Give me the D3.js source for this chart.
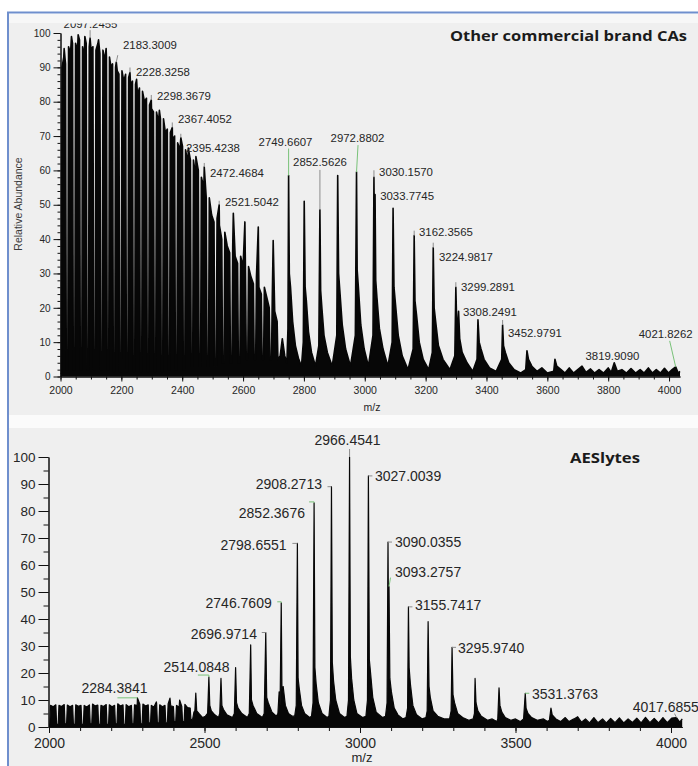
<!DOCTYPE html>
<html><head><meta charset="utf-8">
<script src="https://cdn.jsdelivr.net/npm/d3@7"></script>
<style>
html,body{margin:0;padding:0;background:#fff;}
svg{display:block;}
text{font-family:"Liberation Sans",Arial,sans-serif;}
.title{font-family:"Open Sans","Noto Sans",sans-serif;font-weight:700;fill:#1b1b1b;}
</style></head><body>
<svg id="chart" width="698" height="766"></svg>
<script>
// ---------- Upper spectrum: other commercial brand CAs ----------
// unresolved region: white gaps between clusters (m/z) and the depth they reach
const topGapMz = [2000, 2021.5, 2044.5, 2067.5, 2089.5, 2111.5, 2134.5, 2156, 2176, 2197, 2219, 2241.5, 2264.5, 2287.5, 2310.5, 2333.5, 2356, 2380, 2406, 2432, 2458, 2484, 2509.5, 2535, 2561, 2587, 2613, 2639, 2665, 2691, 2717];
const topGapLow = [1, 2, 2, 2, 2, 2, 2, 2, 1.5, 1.5, 1.5, 1.5, 1.5, 1.5, 1.5, 1.5, 2, 2, 2, 3, 3, 3, 3, 4, 4, 4, 5, 5, 5, 5, 5];
// cluster top (left, middle, right) between consecutive gaps
const topClusterTops = [[90,93,91],[96,94,97],[97,95,98],[96,93,97],[96,95,96],[95,97,94],[95,92,93],[93,90,91],[90,89,88],[89,86,88],[87,85,86],[85,82,84],[83,80,81],[79,78,77],[77,74,75],[75,71,72],[71,69,70],[68,66,67],[66,62,63],[63,58,60],[58,55,52],[52,47,45],[46,44,40],[42,38,36],[38,35,33],[35,32,30],[32,29,27],[29,26,24],[26,23,20],[23,19,16]];
// individual spikes standing out of the clusters
const topSpikes = [[2012,95.5],[2036,99],[2058,99.5],[2080,99],[2097.2455,98.5],[2125,98],[2150,95.5],[2183.3009,91.5],[2228.3258,88.5],[2250,86.5],[2298.3679,80.5],[2325,77.5],[2367.4052,72.5],[2395.4238,69.5],[2420,66.5],[2445,64],[2472.4684,61],[2521.5042,50],[2568,47.5],[2606,45],[2650,43.5],[2699,39.6]];
// resolved series and baseline noise (m/z, relative abundance)
const topResolved = [
 [2722,6],[2729,11],[2737,6],[2744,4],
 [2747.5,14],[2749.6607,58.5],[2752,30],[2756,26],[2763,16],[2772,9],[2783,5],[2792,3],
 [2798,10],[2801,51],[2804,26],[2808,22],[2815,13],[2825,7],[2838,3],
 [2849,9],[2852.5626,48.5],[2855,25],[2859,20],[2866,12],[2877,7],[2893,3],
 [2908,12],[2911,58.5],[2914,30],[2918,25],[2926,15],[2937,8],[2953,3],
 [2969,12],[2972.8802,59.5],[2975,31],[2979,26],[2987,15],[2998,8],[3012,3],
 [3027,12],[3030.157,58],[3032,38],[3033.7745,53],[3036,28],[3040,23],[3048,14],[3060,8],[3076,3],
 [3090,10],[3093,49],[3096,26],[3101,21],[3110,12],[3123,6],[3142,2],
 [3159,8],[3162.3565,41],[3165,22],[3170,18],[3179,10],[3192,5],[3210,2],
 [3222,7],[3224.9817,37.5],[3228,20],[3233,16],[3242,9],[3257,5],[3280,2],
 [3296,6],[3299.2891,26],[3302,16],[3305,14],[3308.2491,19],[3312,11],[3320,7],[3336,4],[3355,1.5],
 [3369,5],[3372,16.5],[3376,10],[3382,8],[3392,5],[3410,2.5],[3432,1.5],
 [3450,5],[3452.9791,15],[3456,9],[3462,7],[3473,4],[3491,2],[3512,1],
 [3529,2],[3533,7.5],[3538,5],[3549,3],[3566,1.5],[3582,2.5],[3600,1],
 [3621,1.5],[3625,5],[3631,3],[3645,2],[3658,1],[3672,2.5],[3686,1],[3700,2],[3714,3],[3727,1.2],[3742,2.2],[3755,1],
 [3770,2],[3785,1],[3800,2.5],[3810,1.2],[3819.909,4],[3830,1.5],[3845,2],[3860,1],[3875,2.3],[3890,1],[3905,2],
 [3918,1],[3932,2.5],[3945,1],[3958,2],[3972,1],[3985,2.4],[3998,1],[4010,2],[4021.8262,2.8],[4030,1],[4036,1.5]
];
const topLabels = ["2097.2455","2183.3009","2228.3258","2298.3679","2367.4052","2395.4238","2472.4684","2521.5042","2749.6607","2852.5626","2972.8802","3030.1570","3033.7745","3162.3565","3224.9817","3299.2891","3308.2491","3452.9791","3819.9090","4021.8262"];
const topXTicks = [2000, 2200, 2400, 2600, 2800, 3000, 3200, 3400, 3600, 3800, 4000];
const topYTicks = [0, 10, 20, 30, 40, 50, 60, 70, 80, 90, 100];

// ---------- Lower spectrum: AESlytes ----------
const botGapMz = [2000, 2027, 2054, 2081, 2108, 2135, 2162, 2189, 2216, 2243, 2270, 2297, 2324, 2351, 2378, 2405, 2432, 2459];
const botGapLow = [1, 1, 1.2, 1, 1, 1.2, 1, 1, 1.2, 1, 1.2, 1.2, 1.5, 1.5, 1.5, 2, 2, 2.5];
const botClusterTops = [[8,7.5,8.2],[8,7.6,8.3],[8.1,7.5,8],[8.2,7.7,8],[8,7.4,8.2],[8.5,7.8,8.1],[8,7.6,8.3],[8.2,7.5,8],[8.6,7.8,8.2],[8.3,7.5,8],[8.2,7.9,8.4],[8.5,7.8,8.2],[8,7.4,8.8],[8.2,7.5,8],[8.5,7.8,7.6],[8,7.4,7.6],[8.4,7.2,7]];
const botSpikes = [[2284.3841,10.8],[2345,9.3],[2389,10.7],[2420,10]];
const botResolved = [
 [2462,3],[2466,5.5],[2469,6],[2472,12.6],[2475,6],[2482,5],[2494,3.5],[2503,4],
 [2510,5],[2514.0848,18.5],[2517,8],[2522,6],[2533,4.5],[2545,3.5],
 [2549,5],[2553,18],[2556,8],[2561,6.5],[2572,4.5],[2590,3.5],
 [2596,5],[2600,22],[2603,9],[2608,7],[2620,5],[2638,3.5],
 [2644,5],[2648.5,30.4],[2651,10],[2656,8],[2668,5],[2686,3.5],
 [2692,5],[2696.9714,35],[2700,11],[2705,9],[2717,5.5],[2731,4],
 [2736,5],[2740,13],[2743,8],[2746.7609,46],[2749,14],[2753,15],[2760,8],[2770,5],[2782,4],
 [2790,4],[2795,8],[2798.6551,68],[2801,18],[2805,14],[2812,8],[2822,5],[2838,3.5],
 [2844,4],[2849,9],[2852.3676,83],[2855,22],[2859,16],[2866,9],[2878,5],[2894,3.5],
 [2900,4],[2905,10],[2908.2713,89],[2911,24],[2915,17],[2922,10],[2934,5],[2950,3.5],
 [2958,4],[2963,10],[2966.4541,100],[2969,26],[2973,18],[2980,10],[2990,5],[3008,3.5],
 [3019,4],[3024,10],[3027.0039,93],[3030,25],[3034,20],[3041,11],[3052,5.5],[3072,3.5],
 [3082,4],[3087,9],[3090.0355,68.5],[3091.6,38],[3093.2757,52],[3096,18],[3101,13],[3110,7],[3122,4.5],[3138,3],
 [3148,3.5],[3153,7],[3155.7417,44.5],[3158,22],[3162,16],[3170,8],[3182,4.5],[3200,3],
 [3212,3.5],[3216,6],[3219,39],[3222,15],[3226,11],[3235,6],[3250,4],[3270,3],
 [3288,3],[3293,6],[3295.974,29.5],[3299,12],[3304,9],[3314,5],[3330,3.5],[3350,2.5],
 [3364,3],[3368,5],[3370,18],[3373,9],[3379,6],[3390,4],[3410,2.5],[3425,3],[3440,2],
 [3443,3],[3447,14.5],[3450,8],[3456,5.5],[3467,3.5],[3485,2.5],[3500,3],[3515,2],
 [3526,3],[3531.3763,12.5],[3534,7],[3540,5],[3552,3.5],[3570,2.5],[3590,3],[3603,2],
 [3609,2.5],[3614,7],[3618,4.5],[3630,3],[3645,2],[3660,3.5],[3672,2],[3688,3],[3700,3.8],[3712,1.8],[3725,3],[3738,1.5],
 [3752,3.5],[3765,1.6],[3780,3],[3792,1.5],[3806,3.2],[3820,1.6],[3834,3.4],[3848,1.5],[3862,3],[3876,1.7],[3890,3.3],
 [3904,1.5],[3918,3.6],[3932,1.6],[3946,3.2],[3960,1.5],[3974,3.5],[3988,1.6],[4002,3.3],[4017.6855,3.5],[4028,1.8],[4036,3]
];
const botLabels = ["2284.3841","2514.0848","2696.9714","2746.7609","2798.6551","2852.3676","2908.2713","2966.4541","3027.0039","3090.0355","3093.2757","3155.7417","3295.9740","3531.3763","4017.6855"];
const botXTicks = [2000, 2500, 3000, 3500, 4000];
const botYTicks = [0, 10, 20, 30, 40, 50, 60, 70, 80, 90, 100];

// ---------- label placement (pixels relative to the labelled peak) ----------
const GREEN = "#79c279", GREY = "#8c8c8c";
const topLabelLayout = [
 {a:"middle", dx:0.4, dy:-9.7, stem:[[0,-8]], c:GREY},
 {a:"start", dx:6.7, dy:-13.2, stem:[[1.5,-7]], c:GREY},
 {a:"start", dx:6, dy:3.2, stem:[[0,-5]], c:GREY},
 {a:"start", dx:5.7, dy:0, stem:[[0,-5]], c:GREY},
 {a:"start", dx:5.7, dy:-4.2, stem:[[0,-5]], c:GREY},
 {a:"start", dx:5.2, dy:13.9, stem:[[0,-4]], c:GREY},
 {a:"start", dx:5.7, dy:9.7, stem:[[0,-4]], c:GREY},
 {a:"start", dx:5.8, dy:0.9, stem:[[0,-4]], c:GREY},
 {a:"middle", dx:-3.1, dy:-29.8, stem:[[0,-27]], c:GREEN},
 {a:"middle", dx:0.1, dy:-43.6, stem:[[0,-40]], c:GREY},
 {a:"middle", dx:1, dy:-30, stem:[[1.5,-27]], c:GREEN},
 {a:"start", dx:5.1, dy:-1, stem:[[0,-7]], c:GREY},
 {a:"start", dx:5.1, dy:5.6, stem:null, c:GREY},
 {a:"start", dx:4.8, dy:0, stem:[[0,-5]], c:GREY},
 {a:"start", dx:5.8, dy:13, stem:[[0,-5]], c:GREY},
 {a:"start", dx:5.2, dy:3.5, stem:[[0,-5]], c:GREY},
 {a:"start", dx:4.4, dy:4.5, stem:null, c:GREY},
 {a:"start", dx:5.4, dy:12.3, stem:[[0,-5]], c:GREY},
 {a:"middle", dx:-1.8, dy:-3.1, stem:null, c:GREY},
 {a:"middle", dx:-10, dy:-28.9, stem:[[-6,-26]], c:GREEN}
];
const botLabelLayout = [
 {a:"middle", dx:-22.9, dy:-4.8, stem:[[-20,0]], c:GREEN},
 {a:"middle", dx:-12.4, dy:-5, stem:[[-11,-2],[0,-2]], c:GREEN},
 {a:"end", dx:-8.8, dy:6.5, stem:[[-4,0]], c:GREY},
 {a:"end", dx:-9.5, dy:5.2, stem:[[-4,-1],[0,-1]], c:GREEN},
 {a:"end", dx:-10.8, dy:6.6, stem:[[-5,0]], c:GREY},
 {a:"end", dx:-9.1, dy:15.1, stem:[[-5,-1],[0,-1]], c:GREEN},
 {a:"end", dx:-9.5, dy:2.3, stem:[[-4,0]], c:GREY},
 {a:"middle", dx:-2.1, dy:-12, stem:[[0,-8]], c:GREY},
 {a:"start", dx:6.6, dy:5.1, stem:[[4,0]], c:GREY},
 {a:"start", dx:7, dy:5, stem:[[4,0]], c:GREY},
 {a:"start", dx:6, dy:-9.6, stem:[[1.5,-9]], c:GREEN},
 {a:"start", dx:6.6, dy:3.2, stem:[[4,0]], c:GREY},
 {a:"start", dx:6, dy:5.6, stem:[[4,0]], c:GREY},
 {a:"start", dx:6.7, dy:5.7, stem:[[4,0]], c:GREEN},
 {a:"start", dx:-43.8, dy:-5.6, stem:[[-2,-4]], c:GREY}
];

// ---------- helpers ----------
// assemble one spectrum: cluster blocks separated by narrow gaps, spikes, resolved peaks
function buildTrace(gaps, lows, tops, spikes, resolved) {
  const pts = [[gaps[0], lows[0]]];
  tops.forEach((t, i) => {
    const a = gaps[i], b = gaps[i + 1];
    pts.push([a + 2.5, lows[i]], [a + 5, t[0]], [(a + b) / 2, t[1]], [b - 5, t[2]], [b - 2.5, lows[i + 1]]);
  });
  return pts.concat(spikes, resolved).sort((p, q) => p[0] - q[0]);
}

function drawSpectrum(g, trace, x, y, width) {
  g.append("path").datum(trace)
    .attr("d", d3.area().x(d => x(d[0])).y0(y(0)).y1(d => y(d[1])))
    .attr("fill", "#070707");
  g.append("path").datum(trace)
    .attr("d", d3.line().x(d => x(d[0])).y(d => y(d[1])))
    .attr("fill", "none").attr("stroke", "#070707").attr("stroke-width", width)
    .attr("stroke-linejoin", "round");
}

function drawLabels(g, texts, layout, trace, x, y, fontSize) {
  texts.forEach((t, i) => {
    const mz = +t;
    const pt = trace.find(p => Math.abs(p[0] - mz) < 1e-6);
    const px = x(mz), py = y(pt[1]);
    const L = layout[i];
    if (L.stem) {
      const pts = L.stem.map(s => [px + s[0], py + s[1]]).concat([[px, py]]);
      g.append("path").attr("d", d3.line()(pts))
        .attr("fill", "none").attr("stroke", L.c).attr("stroke-width", 1);
    }
    g.append("text").attr("x", px + L.dx).attr("y", py + L.dy)
      .attr("text-anchor", L.a).attr("font-size", fontSize).attr("fill", "#262626")
      .text(t);
  });
}

function styleAxis(sel, fontSize) {
  sel.attr("font-size", fontSize).attr("font-family", null);
  sel.selectAll("text").attr("fill", "#262626");
  sel.selectAll("line").attr("stroke", "#111");
  sel.select(".domain").attr("stroke", "#111");
}

// ---------- canvas ----------
const svg = d3.select("#chart");
svg.append("rect").attr("width", 698).attr("height", 766).attr("fill", "#fff");
svg.append("rect").attr("x", 9).attr("y", 14).attr("width", 689).attr("height", 9).attr("fill", "#f7f7f7");
svg.append("rect").attr("x", 9).attr("y", 23).attr("width", 689).attr("height", 392).attr("fill", "#efefef");
svg.append("rect").attr("x", 9).attr("y", 415).attr("width", 689).attr("height", 13).attr("fill", "#fbfbfb");
svg.append("rect").attr("x", 9).attr("y", 428).attr("width", 689).attr("height", 338).attr("fill", "#efefef");
svg.append("path").attr("d", "M8,766V12.5H698").attr("fill", "none")
  .attr("stroke", "#6f8fcd").attr("stroke-width", 2);

svg.append("clipPath").attr("id", "topClip")
  .append("rect").attr("x", 9).attr("y", 23.5).attr("width", 689).attr("height", 392);

// ---------- upper panel ----------
const xTop = d3.scaleLinear().domain([2000, 4036]).range([60.5, 680]);
const yTop = d3.scaleLinear().domain([0, 100]).range([376.5, 33]);
const gTop = svg.append("g").attr("clip-path", "url(#topClip)");
const topTrace = buildTrace(topGapMz, topGapLow, topClusterTops, topSpikes, topResolved);

gTop.append("g").attr("transform", "translate(0,376.5)")
  .call(d3.axisBottom(xTop).tickValues(d3.range(2000, 4036, 50)).tickSize(3).tickSizeOuter(0).tickFormat(""))
  .call(s => styleAxis(s, 10.5));
gTop.append("g").attr("transform", "translate(0,376.5)")
  .call(d3.axisBottom(xTop).tickValues(topXTicks).tickSize(5).tickSizeOuter(0).tickPadding(5).tickFormat(d3.format("d")))
  .call(s => styleAxis(s, 10.5));
gTop.append("g").attr("transform", "translate(60.5,0)")
  .call(d3.axisLeft(yTop).tickValues(d3.range(0, 101, 2)).tickSize(3).tickSizeOuter(0).tickFormat(""))
  .call(s => styleAxis(s, 10));
gTop.append("g").attr("transform", "translate(60.5,0)")
  .call(d3.axisLeft(yTop).tickValues(topYTicks).tickSize(7).tickSizeOuter(0).tickPadding(3).tickFormat(d3.format("d")))
  .call(s => styleAxis(s, 10));

drawSpectrum(gTop, topTrace, xTop, yTop, 1.6);
drawLabels(gTop, topLabels, topLabelLayout, topTrace, xTop, yTop, 11.4);

gTop.append("text").attr("transform", "translate(21.5,204) rotate(-90)")
  .attr("text-anchor", "middle").attr("font-size", 10.5).attr("fill", "#3a3a3a")
  .text("Relative Abundance");
gTop.append("text").attr("x", 372).attr("y", 410.5).attr("text-anchor", "middle")
  .attr("font-size", 10.5).attr("fill", "#262626").text("m/z");
gTop.append("text").attr("class", "title").attr("x", 450).attr("y", 40.5)
  .attr("font-size", 15).attr("textLength", 237).attr("lengthAdjust", "spacingAndGlyphs")
  .text("Other commercial brand CAs");

// ---------- lower panel ----------
const xBot = d3.scaleLinear().domain([2000, 4036]).range([49, 682.2]);
const yBot = d3.scaleLinear().domain([0, 100]).range([727, 457]);
const gBot = svg.append("g");
const botTrace = buildTrace(botGapMz, botGapLow, botClusterTops, botSpikes, botResolved);

gBot.append("g").attr("transform", "translate(0,727)")
  .call(d3.axisBottom(xBot).tickValues(d3.range(2000, 4036, 100)).tickSize(4).tickSizeOuter(0).tickFormat(""))
  .call(s => styleAxis(s, 14));
gBot.append("g").attr("transform", "translate(0,727)")
  .call(d3.axisBottom(xBot).tickValues(botXTicks).tickSize(6).tickSizeOuter(0).tickPadding(5).tickFormat(d3.format("d")))
  .call(s => styleAxis(s, 14));
gBot.append("g").attr("transform", "translate(48.5,0)")
  .call(d3.axisLeft(yBot).tickValues(d3.range(0, 101, 5)).tickSize(5).tickSizeOuter(0).tickFormat(""))
  .call(s => styleAxis(s, 13.5));
gBot.append("g").attr("transform", "translate(48.5,0)")
  .call(d3.axisLeft(yBot).tickValues(botYTicks).tickSize(10).tickSizeOuter(0).tickPadding(3).tickFormat(d3.format("d")))
  .call(s => styleAxis(s, 13.5));

drawSpectrum(gBot, botTrace, xBot, yBot, 1.2);
drawLabels(gBot, botLabels, botLabelLayout, botTrace, xBot, yBot, 14);

gBot.append("text").attr("x", 362).attr("y", 762).attr("text-anchor", "middle")
  .attr("font-size", 13).attr("fill", "#262626").text("m/z");
gBot.append("text").attr("class", "title").attr("x", 570).attr("y", 462.5)
  .attr("font-size", 15).attr("textLength", 70).attr("lengthAdjust", "spacingAndGlyphs")
  .text("AESlytes");
</script></body></html>
